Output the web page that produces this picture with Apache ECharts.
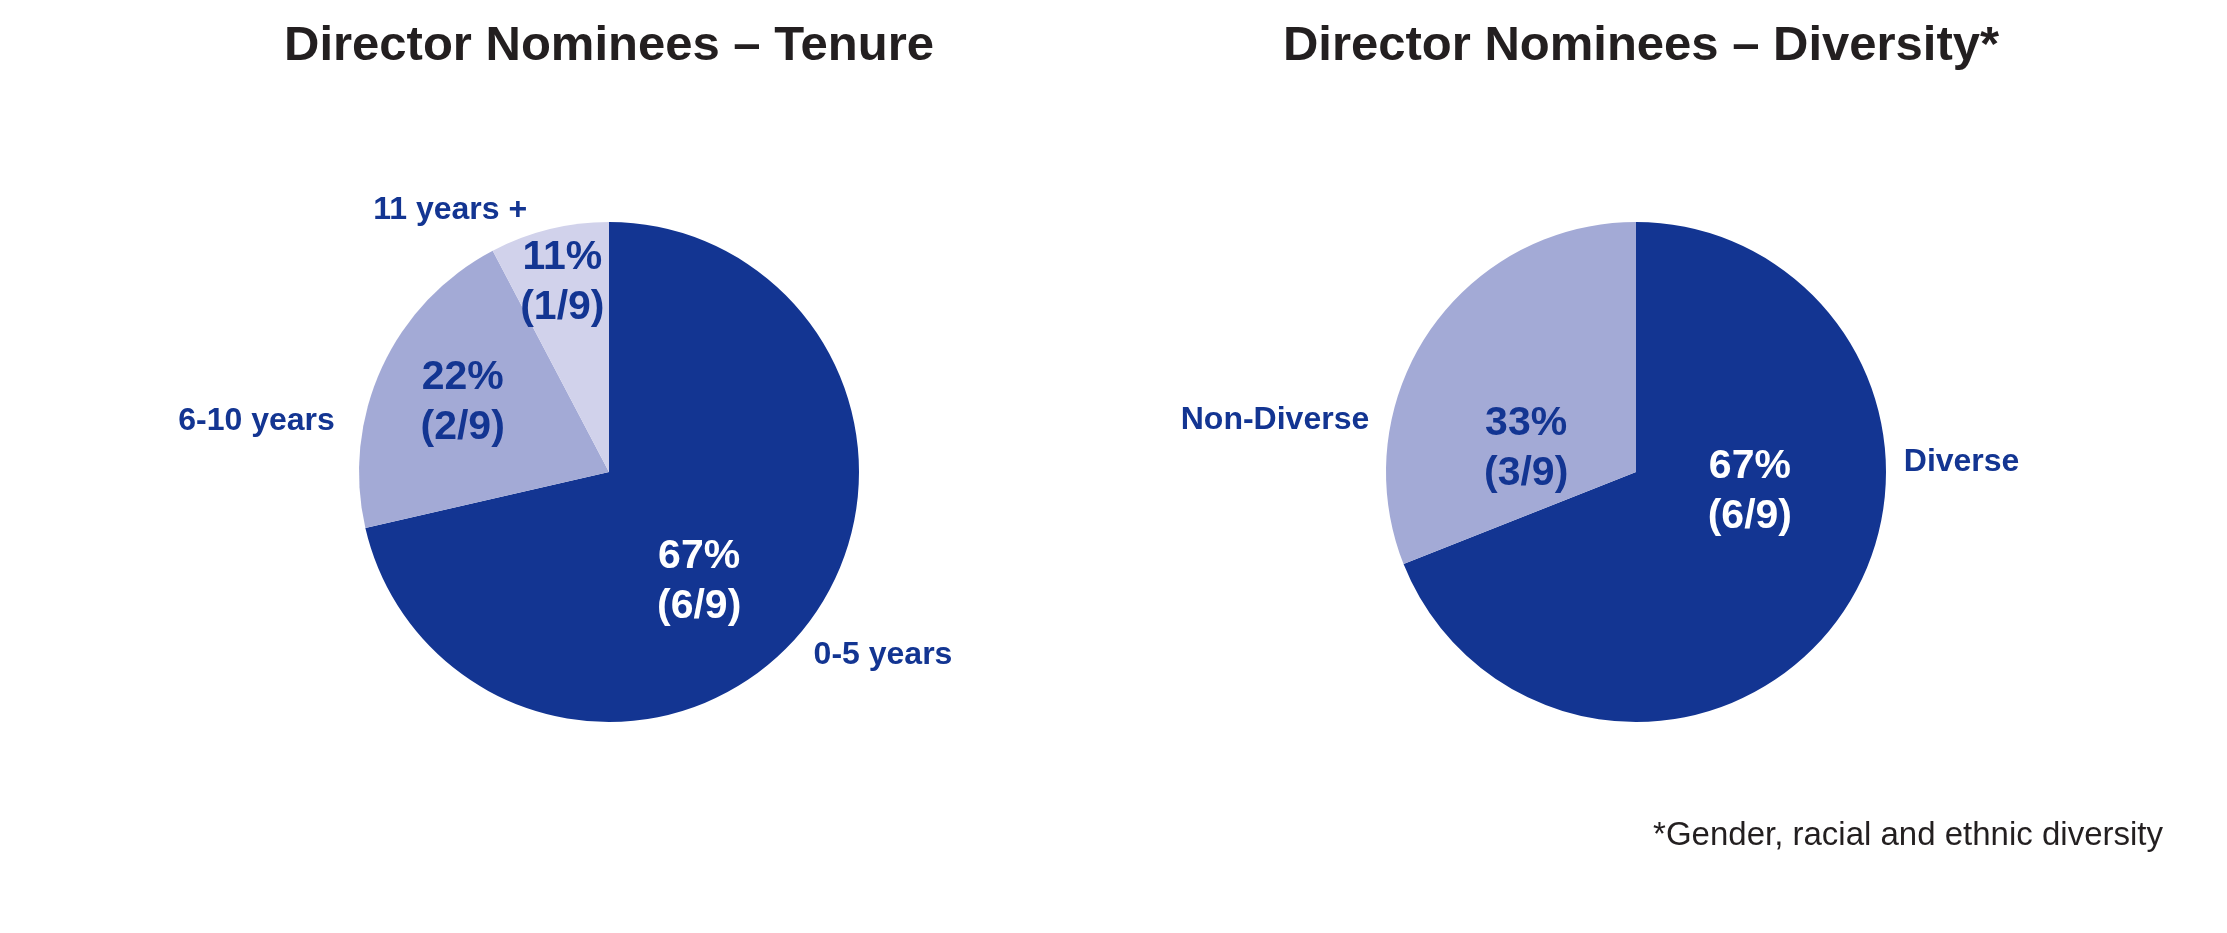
<!DOCTYPE html>
<html>
<head>
<meta charset="utf-8">
<script src="https://cdn.jsdelivr.net/npm/echarts@6/dist/echarts.min.js"></script>
<style>
  html, body { margin: 0; padding: 0; background: #ffffff; }
  #chart { width: 2227px; height: 933px; }
</style>
</head>
<body>
<div id="chart"></div>
<script>
// ---- Data ----
const tenureTitle = 'Director Nominees \u2013 Tenure';
const tenureCategories = ['0-5 years', '6-10 years', '11 years +'];
// slice sizes as drawn in the reference (share of the circle, %)
const tenureSlices = [71.4, 20.9, 7.7];
const tenurePctLabels = ['67%', '22%', '11%'];
const tenureCountLabels = ['(6/9)', '(2/9)', '(1/9)'];

const diversityTitle = 'Director Nominees \u2013 Diversity*';
const diversityCategories = ['Diverse', 'Non-Diverse'];
const diversitySlices = [69.0, 31.0];
const diversityPctLabels = ['67%', '33%'];
const diversityCountLabels = ['(6/9)', '(3/9)'];

const footnote = '*Gender, racial and ethnic diversity';

// ---- Styles ----
const DARK = '#133592';
const MID = '#a3aad6';
const LIGHT = '#d1d2eb';
const TEXT = '#231f20';
const FONT = 'Liberation Sans, Arial, Helvetica, sans-serif';

const tenureColors = [DARK, MID, LIGHT];
const tenureInnerTextColors = ['#ffffff', DARK, DARK];
const diversityColors = [DARK, MID];
const diversityInnerTextColors = ['#ffffff', DARK];

// label nudges (px) relative to ECharts default label anchors
const tenureInnerNudge = [[-10, 30], [-30, -16], [-16, -65]];
const tenureOuterNudge = [[4, 27], [-42, 53], [-17, -19]];
const diversityInnerNudge = [[8, -52], [-4, 49]];
const diversityOuterNudge = [[56, -150], [-55, 89]];

const leftCenter = [609, 472];
const rightCenter = [1636, 472];
const pieRadius = 250;

function innerSeries(cats, vals, colors, txtColors, pct, cnt, center, nudge) {
  return {
    type: 'pie',
    center: center,
    radius: pieRadius,
    startAngle: 90,
    clockwise: true,
    avoidLabelOverlap: false,
    silent: true,
    animation: false,
    itemStyle: { borderWidth: 0 },
    labelLine: { show: false },
    label: {
      show: true,
      position: 'inside',
      fontFamily: FONT,
      fontSize: 41,
      fontWeight: 'bold',
      lineHeight: 50,
      align: 'center',
      formatter: p => pct[p.dataIndex] + '\n' + cnt[p.dataIndex]
    },
    labelLayout: p => ({ dx: nudge[p.dataIndex][0], dy: nudge[p.dataIndex][1] }),
    data: cats.map((c, i) => ({
      name: c,
      value: vals[i],
      itemStyle: { color: colors[i] },
      label: { color: txtColors[i] }
    }))
  };
}

function outerSeries(cats, vals, center, nudge) {
  return {
    type: 'pie',
    center: center,
    radius: pieRadius,
    startAngle: 90,
    clockwise: true,
    avoidLabelOverlap: false,
    silent: true,
    animation: false,
    itemStyle: { color: 'rgba(0,0,0,0)', borderWidth: 0 },
    labelLine: { show: false, length: 0, length2: 0 },
    label: {
      show: true,
      position: 'outside',
      fontFamily: FONT,
      fontSize: 32,
      fontWeight: 'bold',
      color: DARK,
      formatter: p => p.name
    },
    labelLayout: p => ({ dx: nudge[p.dataIndex][0], dy: nudge[p.dataIndex][1] }),
    data: cats.map((c, i) => ({ name: c, value: vals[i] }))
  };
}

const chart = echarts.init(document.getElementById('chart'), null, { renderer: 'canvas' });
chart.setOption({
  backgroundColor: '#ffffff',
  animation: false,
  title: [
    {
      text: tenureTitle, left: leftCenter[0], top: 22, textAlign: 'center', padding: 0,
      textStyle: { fontFamily: FONT, fontSize: 49, fontWeight: 'bold', color: TEXT }
    },
    {
      text: diversityTitle, left: rightCenter[0] + 5, top: 22, textAlign: 'center', padding: 0,
      textStyle: { fontFamily: FONT, fontSize: 49, fontWeight: 'bold', color: TEXT }
    },
    {
      text: footnote, right: 64, top: 819, padding: 0,
      textStyle: { fontFamily: FONT, fontSize: 33, fontWeight: 'normal', color: TEXT }
    }
  ],
  series: [
    innerSeries(tenureCategories, tenureSlices, tenureColors, tenureInnerTextColors,
      tenurePctLabels, tenureCountLabels, leftCenter, tenureInnerNudge),
    outerSeries(tenureCategories, tenureSlices, leftCenter, tenureOuterNudge),
    innerSeries(diversityCategories, diversitySlices, diversityColors, diversityInnerTextColors,
      diversityPctLabels, diversityCountLabels, rightCenter, diversityInnerNudge),
    outerSeries(diversityCategories, diversitySlices, rightCenter, diversityOuterNudge)
  ]
});
</script>
</body>
</html>
